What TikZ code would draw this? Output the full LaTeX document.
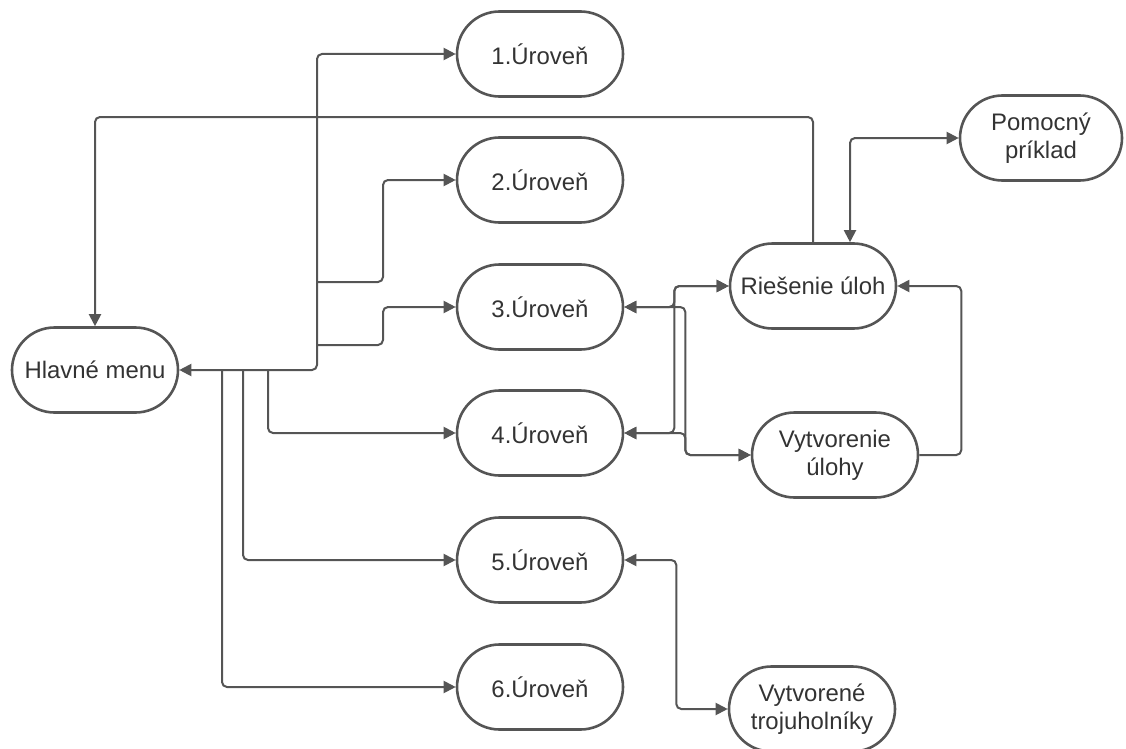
\documentclass[tikz,border=0pt]{standalone}
\usepackage{fontspec}
\setmainfont{Liberation Sans}
\usepackage{tikz}
\usetikzlibrary{calc}
\usetikzlibrary{shapes.misc, arrows.meta, positioning}
\definecolor{linegray}{HTML}{555555}
\definecolor{textgray}{HTML}{333333}
\begin{document}
\begin{tikzpicture}[x=1bp,y=-1bp,
                    main node/.style={rounded rectangle,draw=linegray,line width=2.6bp,fill=white,
                      text=textgray,font=\fontsize{24}{28}\selectfont,align=center,
                      minimum width=170bp,minimum height=85bp,inner sep=2bp},
                    link/.style={draw=linegray,line width=2bp,rounded corners=5bp,
                      arrows={-Triangle[length=12bp,width=12bp]}},
                    twoway/.style={link,arrows={Triangle[length=12bp,width=12bp]-Triangle[length=12bp,width=12bp]}}]
 \useasboundingbox (0,0) rectangle (1126,749);

 \node [main node] (menu) at (95,370) {Hlavné menu};

 \foreach \i/\y in {1/54,2/180,3/307,4/433,5/560,6/687}
    \node [main node] (u\i) at (540,\y) {\i.Úroveň};

 \node [main node] (ries) at (813,286) {Riešenie úloh};
 \node [main node,minimum width=166bp] (pom) at (1041,138) {Pomocný\\príklad};
 \node [main node] (vytv) at (835,455) {Vytvorenie\\úlohy};
 \node [main node] (troj) at (812,709) {Vytvorené\\trojuholníky};

%Branches from the menu
 \coordinate (j2) at (317,282);
 \coordinate (j3) at (317,345);
 \coordinate (m4) at (268,370);
 \coordinate (m5) at (243,370);
 \coordinate (m6) at (222,370);

 \draw[twoway] (menu.east) -- (317,370) |- (u1.west);
 \draw[link] (j2) -- ++(66,0) |- (u2.west);
 \draw[link] (j3) -- ++(66,0) |- (u3.west);
 \draw[link] (m4) |- (u4.west);
 \draw[link] (m5) |- (u5.west);
 \draw[link] (m6) |- (u6.west);

%Back to the menu
 \coordinate (tl) at (95,117);
 \draw[link] (ries.north) |- (tl) -- (menu.north);

%Tasks
 \draw[twoway] ([xshift=37bp]ries.north) |- (pom.west);
 \draw[twoway] (u3.east) -- ++(50,0) |- (ries.west);
 \draw[twoway] (u4.east) -- ++(50,0) |- (ries.west);
 \draw[twoway] (u3.east) -- ++(61,0) |- (vytv.west);
 \draw[twoway] (u4.east) -- ++(61,0) |- (vytv.west);
 \draw[link] (vytv.east) -- ++(42,0) |- (ries.east);
 \draw[twoway] (u5.east) -- ++(52,0) |- (troj.west);

\end{tikzpicture}
\end{document}
